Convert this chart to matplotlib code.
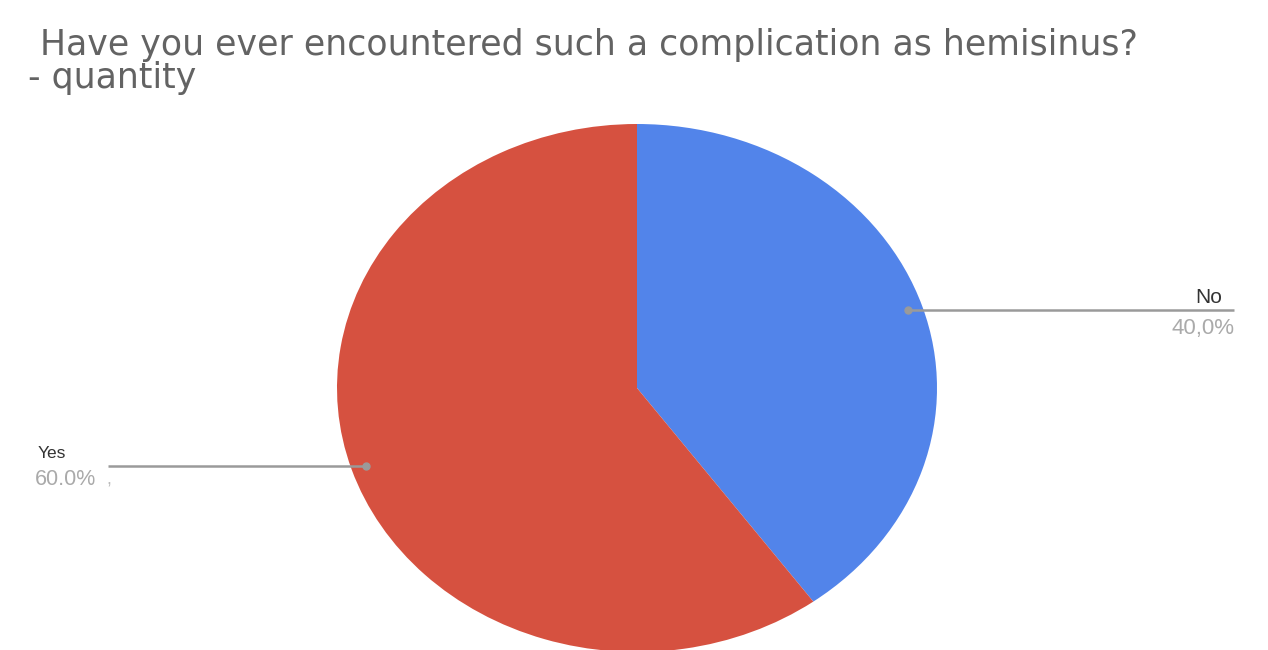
import numpy as np
import matplotlib
matplotlib.use("Agg")
import matplotlib.pyplot as plt

plt.rcParams['font.family'] = ['Liberation Sans', 'DejaVu Sans']

# answers and their shares
answers = ["No", "Yes"]
shares = [40.0, 60.0]
share_labels = ["40,0%", "60.0%"]
colors = ["#5284EA", "#D65140"]

W, H = 1268, 650
fig = plt.figure(figsize=(W / 100, H / 100), dpi=100)
ax = fig.add_axes([0, 0, 1, 1])

wedges, _ = ax.pie(shares, colors=colors, startangle=90, counterclock=False,
                   radius=1, wedgeprops=dict(linewidth=0))

# pie is stretched: 300 px wide radius, 264 px tall radius
cx, cy, rx, ry = 637, 388, 300, 264
ax.set_aspect('auto')
ax.set_xlim(-cx / rx, (W - cx) / rx)
ax.set_ylim(-(H - cy) / ry, cy / ry)
ax.axis('off')

def px(x, y):
    # pixel coords -> data coords
    return (x - cx) / rx, (cy - y) / ry

line_end = {"No": 1234, "Yes": 108}
for w, name, lab in zip(wedges, answers, share_labels):
    mid = np.deg2rad((w.theta1 + w.theta2) / 2)
    dx, dy = 0.95 * np.cos(mid), 0.95 * np.sin(mid)
    ex = px(line_end[name], 0)[0]
    ax.plot([dx, ex], [dy, dy], color="#9a9a9a", lw=1.8, solid_capstyle='butt')
    ax.plot(dx, dy, 'o', color="#9a9a9a", ms=5)
    if name == "No":
        ax.text(px(1222, 0)[0], dy + 0.027, name, ha='right', va='baseline',
                fontsize=15, color="#333333")
        ax.text(ex, dy - 0.09, lab, ha='right', va='baseline',
                fontsize=16, color="#aaaaaa")
    else:
        ax.text(px(38, 0)[0], dy + 0.027, name, ha='left', va='baseline',
                fontsize=12.5, color="#333333")
        ax.text(px(35, 0)[0], dy - 0.072, lab, ha='left', va='baseline',
                fontsize=15.5, color="#aaaaaa")
        ax.text(px(106, 0)[0], dy - 0.072, ",", ha='left', va='baseline',
                fontsize=13, color="#bbbbbb")

fig.text(40 / W, 1 - 55 / H, "Have you ever encountered such a complication as hemisinus?",
         fontsize=25, color="#636363", ha='left', va='baseline',
         family=['DejaVu Sans'])
fig.text(28 / W, 1 - 88 / H, "- quantity",
         fontsize=25, color="#636363", ha='left', va='baseline',
         family=['DejaVu Sans'])

fig.savefig("out.png", dpi=100, facecolor="white")
